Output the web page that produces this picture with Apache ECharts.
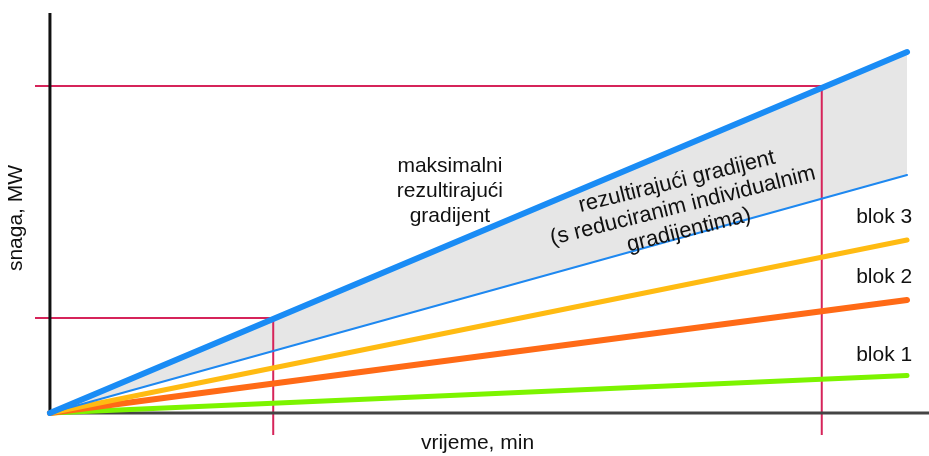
<!DOCTYPE html>
<html>
<head>
<meta charset="utf-8">
<script src="https://cdn.jsdelivr.net/npm/echarts@6/dist/echarts.min.js"></script>
<style>
  html, body { margin: 0; padding: 0; background: #fff; }
  #main { width: 929px; height: 456px; }
</style>
</head>
<body>
<div id="main"></div>
<script>
  // time (x) and power (y) in chart units, 0..100
  var timeStart = 0
  var timeEnd = 97.5
  var maxGradient = [0, 90.25]     // maksimalni rezultirajuci gradijent
  var reducedGradient = [0, 59.5]  // rezultirajuci gradijent (reducirani)
  var blok3 = [0, 43.25]
  var blok2 = [0, 28.25]
  var blok1 = [0, 9.4]

  // axis lines drawn from the origin
  var yAxisLine = [[0, 0], [0, 100]]
  var xAxisLine = [[0, 0], [100, 0]]

  // red guide lines: [x, y] points
  var guideHigh = [[-1.7, 81.75], [87.8, 81.75], [87.8, -5.5]]
  var guideLow = [[-1.7, 23.75], [25.4, 23.75], [25.4, -5.5]]

  // text annotations: [x, y, text, rotate, fontSize]
  var notes = [
    [45.5, 55.5, 'maksimalni\nrezultirajući\ngradijent', 0, 21],
    [72.0, 51.75, 'rezultirajući gradijent\n(s reduciranim individualnim\ngradijentima)', 14, 22],
    [94.9, 49, 'blok 3', 0, 21],
    [94.9, 34, 'blok 2', 0, 21],
    [94.9, 14.5, 'blok 1', 0, 21]
  ]

  var font = '"Liberation Sans", Arial, sans-serif'

  function pts(ys) {
    return [[timeStart, ys[0]], [timeEnd, ys[1]]]
  }

  var chart = echarts.init(document.getElementById('main'))

  function line(data, color, width, z, cap) {
    return {
      type: 'line',
      data: data,
      symbol: 'none',
      silent: true,
      clip: false,
      z: z,
      lineStyle: { color: color, width: width, cap: cap || 'round' }
    }
  }

  function fill(data, color) {
    return {
      type: 'line',
      data: data,
      symbol: 'none',
      silent: true,
      z: 1,
      lineStyle: { width: 0, opacity: 0 },
      areaStyle: { color: color, opacity: 1, origin: 0 }
    }
  }

  var option = {
    animation: false,
    backgroundColor: '#fff',
    grid: { left: 35, right: 0, top: 13, bottom: 21, outerBoundsMode: 'none' },
    xAxis: {
      type: 'value',
      min: -1.7,
      max: 100,
      name: 'vrijeme, min',
      nameLocation: 'middle',
      nameGap: -2,
      nameTextStyle: { fontFamily: font, fontSize: 21, color: '#111', padding: [0, 9, 0, 0] },
      axisLine: { show: false, onZero: false },
      axisTick: { show: false },
      axisLabel: { show: false },
      splitLine: { show: false }
    },
    yAxis: {
      type: 'value',
      min: -5.5,
      max: 100,
      name: 'snaga, MW',
      nameLocation: 'middle',
      nameGap: 8,
      nameRotate: 90,
      nameTextStyle: { fontFamily: font, fontSize: 21, color: '#111', padding: [0, 0, 0, 12] },
      axisLine: { show: false, onZero: false },
      axisTick: { show: false },
      axisLabel: { show: false },
      splitLine: { show: false }
    },
    series: [
      fill(pts(maxGradient), '#e6e6e6'),
      fill(pts(reducedGradient), '#ffffff'),
      line(guideHigh, '#d6245a', 2, 3, 'butt'),
      line(guideLow, '#d6245a', 2, 3, 'butt'),
      line(xAxisLine, '#444', 3, 3, 'butt'),
      line(yAxisLine, '#111', 3, 3, 'butt'),
      line(pts(blok1), '#7cf400', 5, 4),
      line(pts(blok2), '#ff6a16', 6, 4),
      line(pts(blok3), '#ffbb12', 5, 4),
      line(pts(reducedGradient), '#1e88f0', 2, 4),
      line(pts(maxGradient), '#1a8cf5', 6, 5),
      {
        type: 'scatter',
        symbolSize: 0,
        silent: true,
        clip: false,
        z: 6,
        itemStyle: { opacity: 1 },
        data: notes.map(function (n) {
          return {
            value: [n[0], n[1]],
            label: {
              show: true,
              position: 'inside',
              formatter: n[2],
              rotate: n[3],
              align: 'center',
              verticalAlign: 'middle',
              fontFamily: font,
              fontSize: n[4],
              lineHeight: 25,
              color: '#111',
              opacity: 1,
              textBorderWidth: 0
            }
          }
        })
      }
    ]
  }

  chart.setOption(option)
</script>
</body>
</html>
